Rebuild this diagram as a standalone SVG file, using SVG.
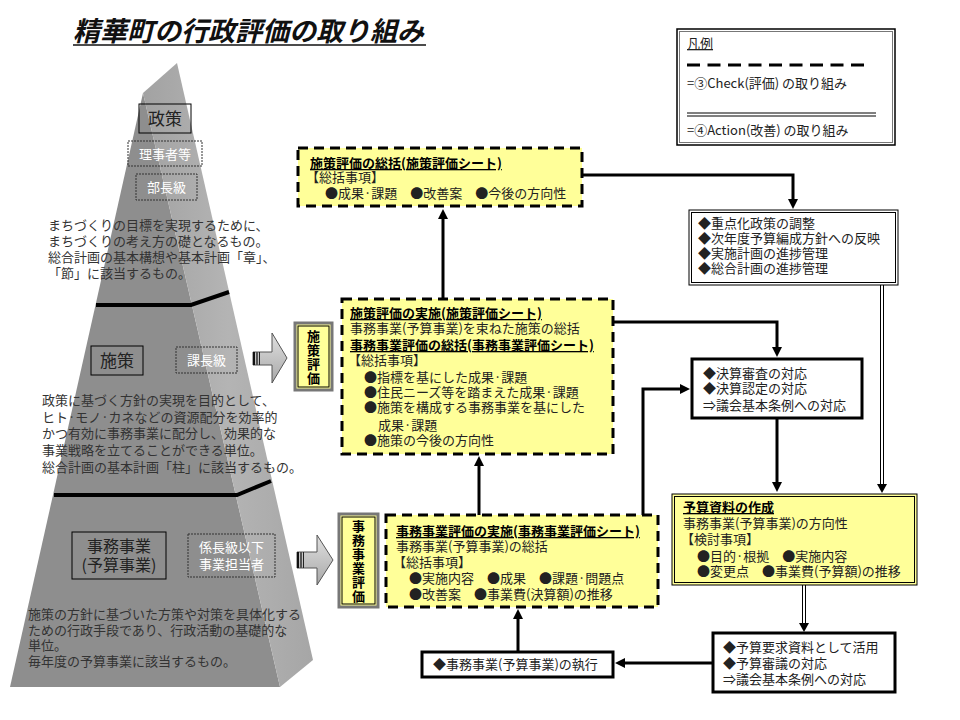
<svg xmlns="http://www.w3.org/2000/svg" width="960" height="720" viewBox="0 0 960 720">
<defs>
<marker id="ah" viewBox="0 0 10 10" markerWidth="10" markerHeight="10" markerUnits="userSpaceOnUse" refX="2" refY="5" orient="auto">
<path d="M0,0 L10,5 L0,10 z" fill="#000"/>
</marker>
<linearGradient id="side" x1="0" y1="0" x2="1" y2="0">
<stop offset="0" stop-color="#a2a2a2"/>
<stop offset="0.5" stop-color="#b4b4b4"/>
<stop offset="1" stop-color="#a6a6a6"/>
</linearGradient>
<linearGradient id="barr" x1="0" y1="0" x2="0" y2="1">
<stop offset="0" stop-color="#e0e0e0"/>
<stop offset="1" stop-color="#a8a8a8"/>
</linearGradient>
</defs>
<style>
text{font-family:"Noto Sans CJK JP","Noto Sans CJK SC",sans-serif;font-size:13px;fill:#222}
.b{font-weight:bold;fill:#000;text-decoration:underline}
.w{fill:#fff}
.d{fill:#333}
.big{font-size:17px}
.vl{font-weight:bold;fill:#000;writing-mode:tb;letter-spacing:1px}
.dash{fill:#ffff99;stroke:#000;stroke-width:3;stroke-dasharray:10 6}
.thick{fill:#fff;stroke:#000;stroke-width:3}
.thin{fill:none;stroke:#000;stroke-width:1}
.dot{fill:none;stroke:#333;stroke-width:1;stroke-dasharray:2 1}
.con{fill:none;stroke:#000;stroke-width:3}
.dl{fill:none;stroke:#000;stroke-width:1}
</style>
<rect width="960" height="720" fill="#fff"/>

<g id="title">
<text x="73" y="41" style="font-size:27px;font-weight:bold;font-style:italic;fill:#111">精華町の行政評価の取り組み</text>
<line x1="73" y1="45" x2="426" y2="45" stroke="#111" stroke-width="1.5"/>
</g>

<g id="pyramid">
<polygon points="143,93 10,687 280,687" fill="#8e8e8e"/>
<polygon points="143,93 177,63 313,660 280,687" fill="url(#side)"/>
<polyline points="96,305 191,305 229,292" fill="none" stroke="#000" stroke-width="4"/>
<polyline points="54,495 237,495 271,481" fill="none" stroke="#000" stroke-width="4"/>
</g>

<g id="policy">
<rect x="139" y="104" width="52" height="29" class="thin"/>
<text x="165" y="125" class="big" text-anchor="middle">政策</text>
<rect x="128" y="141" width="74" height="25" class="dot"/>
<text x="165" y="158.5" class="w" text-anchor="middle">理事者等</text>
<rect x="136" y="174" width="61" height="26" class="dot"/>
<text x="166.5" y="192" class="w" text-anchor="middle">部長級</text>
<text class="d"><tspan x="48" y="230">まちづくりの目標を実現するために、</tspan><tspan x="48" y="246">まちづくりの考え方の礎となるもの。</tspan><tspan x="48" y="262">総合計画の基本構想や基本計画「章」、</tspan><tspan x="48" y="278">「節」に該当するもの。</tspan></text>
</g>

<g id="measure">
<rect x="91" y="346" width="52" height="29" class="thin"/>
<text x="117" y="367" class="big" text-anchor="middle">施策</text>
<rect x="176" y="347" width="61" height="26" class="dot"/>
<text x="206.5" y="365" class="w" text-anchor="middle">課長級</text>
<text class="d"><tspan x="42" y="405">政策に基づく方針の実現を目的として、</tspan><tspan x="42" y="421.5">ヒト·モノ·カネなどの資源配分を効率的</tspan><tspan x="42" y="438">かつ有効に事務事業に配分し、効果的な</tspan><tspan x="42" y="455">事業戦略を立てることができる単位。</tspan><tspan x="42" y="472">総合計画の基本計画「柱」に該当するもの。</tspan></text>
</g>

<g id="project">
<rect x="72" y="532" width="94" height="47" class="thin"/>
<text class="big" text-anchor="middle" style="font-size:16px"><tspan x="119" y="552">事務事業</tspan><tspan x="119" y="571">(予算事業)</tspan></text>
<rect x="188" y="534" width="87" height="43" class="dot"/>
<text class="w" text-anchor="middle"><tspan x="231.5" y="552">係長級以下</tspan><tspan x="231.5" y="569">事業担当者</tspan></text>
<text class="d"><tspan x="28" y="619">施策の方針に基づいた方策や対策を具体化する</tspan><tspan x="28" y="635">ための行政手段であり、行政活動の基礎的な</tspan><tspan x="28" y="650">単位。</tspan><tspan x="28" y="666">毎年度の予算事業に該当するもの。</tspan></text>
</g>

<g id="arrow-measure">
<polygon points="253,352 272,352 272,333 287,358 272,383 272,365 253,365" fill="url(#barr)" stroke="#555" stroke-width="1"/>
<rect x="253" y="352" width="2" height="13" fill="#111"/>
<rect x="256" y="352" width="2" height="13" fill="#555"/>
<rect x="259" y="352" width="1" height="13" fill="#222"/>
</g>
<g id="arrow-project">
<polygon points="297,552 317,552 317,535 333,560 317,585 317,568 297,568" fill="url(#barr)" stroke="#555" stroke-width="1"/>
<rect x="297" y="552" width="2" height="16" fill="#111"/>
<rect x="300" y="552" width="2" height="16" fill="#555"/>
<rect x="303" y="552" width="1" height="16" fill="#222"/>
</g>

<g id="label-measure-eval">
<rect x="295" y="323" width="37" height="67" fill="#ffff99" stroke="#777" stroke-width="3"/>
<rect x="298" y="326" width="31" height="61" class="thin"/>
<text class="vl" x="313.5" y="330">施策評価</text>
</g>
<g id="label-project-eval">
<rect x="339" y="514" width="39" height="93" fill="#ffff99" stroke="#777" stroke-width="3"/>
<rect x="342" y="517" width="33" height="87" class="thin"/>
<text class="vl" x="358.5" y="520">事務事業評価</text>
</g>

<g id="legend">
<rect x="677" y="29" width="218" height="116" fill="#fff" stroke="#000" stroke-width="1.5"/>
<rect x="679.5" y="31.5" width="213" height="111" fill="none" stroke="#777" stroke-width="1"/>
<text x="687" y="48" style="text-decoration:underline">凡例</text>
<line x1="687" y1="65" x2="870" y2="65" stroke="#000" stroke-width="3" stroke-dasharray="13 7.5"/>
<text x="687" y="88">=③Check(評価) の取り組み</text>
<line x1="687" y1="113" x2="876" y2="113" class="dl"/>
<line x1="687" y1="116" x2="876" y2="116" class="dl"/>
<text x="687" y="135">=④Action(改善) の取り組み</text>
</g>

<g id="measure-summary">
<rect x="298" y="148" width="284" height="58" class="dash"/>
<text><tspan class="b" x="310" y="168">施策評価の総括(施策評価シート)</tspan><tspan x="306" y="182">【総括事項】</tspan><tspan x="325" y="198">●成果·課題　●改善案　●今後の方向性</tspan></text>
</g>

<g id="measure-impl">
<rect x="342" y="299" width="271" height="155" class="dash"/>
<text><tspan class="b" x="350" y="318">施策評価の実施(施策評価シート)</tspan><tspan x="350" y="333">事務事業(予算事業)を束ねた施策の総括</tspan><tspan class="b" x="350" y="350">事務事業評価の総括(事務事業評価シート)</tspan><tspan x="348" y="365">【総括事項】</tspan><tspan x="364" y="382">●指標を基にした成果·課題</tspan><tspan x="364" y="397">●住民ニーズ等を踏まえた成果·課題</tspan><tspan x="364" y="412">●施策を構成する事務事業を基にした</tspan><tspan x="378" y="430">成果·課題</tspan><tspan x="364" y="445">●施策の今後の方向性</tspan></text>
</g>

<g id="project-impl">
<rect x="386" y="515" width="272" height="92" class="dash"/>
<text><tspan class="b" x="396" y="536">事務事業評価の実施(事務事業評価シート)</tspan><tspan x="396" y="551">事務事業(予算事業)の総括</tspan><tspan x="393" y="567">【総括事項】</tspan><tspan x="409" y="583">●実施内容　●成果　●課題·問題点</tspan><tspan x="409" y="599">●改善案　●事業費(決算額)の推移</tspan></text>
</g>

<g id="execution">
<rect x="422" y="652" width="191" height="25" class="thick"/>
<text x="433" y="669">◆事務事業(予算事業)の執行</text>
</g>

<g id="priority">
<rect x="689" y="210" width="209" height="75" fill="#fff" stroke="#000" stroke-width="1"/>
<rect x="691.5" y="212.5" width="204" height="70" class="thin"/>
<text><tspan x="698" y="228">◆重点化政策の調整</tspan><tspan x="698" y="243">◆次年度予算編成方針への反映</tspan><tspan x="698" y="258">◆実施計画の進捗管理</tspan><tspan x="698" y="273">◆総合計画の進捗管理</tspan></text>
</g>

<g id="settlement">
<rect x="692" y="359" width="170" height="59" class="thick"/>
<text><tspan x="703" y="378">◆決算審査の対応</tspan><tspan x="703" y="393">◆決算認定の対応</tspan><tspan x="703" y="410">⇒議会基本条例への対応</tspan></text>
</g>

<g id="budget-doc">
<rect x="672" y="494" width="245" height="91" fill="#ffff99" stroke="#000" stroke-width="1"/>
<rect x="674.5" y="496.5" width="240" height="86" class="thin"/>
<text><tspan class="b" x="683" y="512">予算資料の作成</tspan><tspan x="683" y="528">事務事業(予算事業)の方向性</tspan><tspan x="681" y="544">【検討事項】</tspan><tspan x="697" y="561">●目的·根拠　●実施内容</tspan><tspan x="697" y="576">●変更点　●事業費(予算額)の推移</tspan></text>
</g>

<g id="budget-request">
<rect x="713" y="633" width="182" height="59" class="thick"/>
<text><tspan x="723" y="652">◆予算要求資料として活用</tspan><tspan x="723" y="668">◆予算審議の対応</tspan><tspan x="723" y="684">⇒議会基本条例への対応</tspan></text>
</g>

<g id="connectors">
<path class="con" d="M443,299 V217" marker-end="url(#ah)"/>
<path class="con" d="M582,175 H793 V201" marker-end="url(#ah)"/>
<path class="con" d="M613,322 H777 V349" marker-end="url(#ah)"/>
<path class="con" d="M643,515 V389 H682" marker-end="url(#ah)"/>
<path class="con" d="M479,515 V464" marker-end="url(#ah)"/>
<path class="con" d="M777,418 V484" marker-end="url(#ah)"/>
<path class="con" d="M713,663 H623" marker-end="url(#ah)"/>
<path class="con" d="M518,652 V617" marker-end="url(#ah)"/>
<line class="dl" x1="880.5" y1="285" x2="880.5" y2="486"/>
<line class="dl" x1="883.5" y1="285" x2="883.5" y2="486"/>
<polygon points="877,484 887,484 882,493" fill="#000"/>
<line class="dl" x1="802.5" y1="585" x2="802.5" y2="625"/>
<line class="dl" x1="805.5" y1="585" x2="805.5" y2="625"/>
<polygon points="799,623 809,623 804,632" fill="#000"/>
</g>
</svg>
